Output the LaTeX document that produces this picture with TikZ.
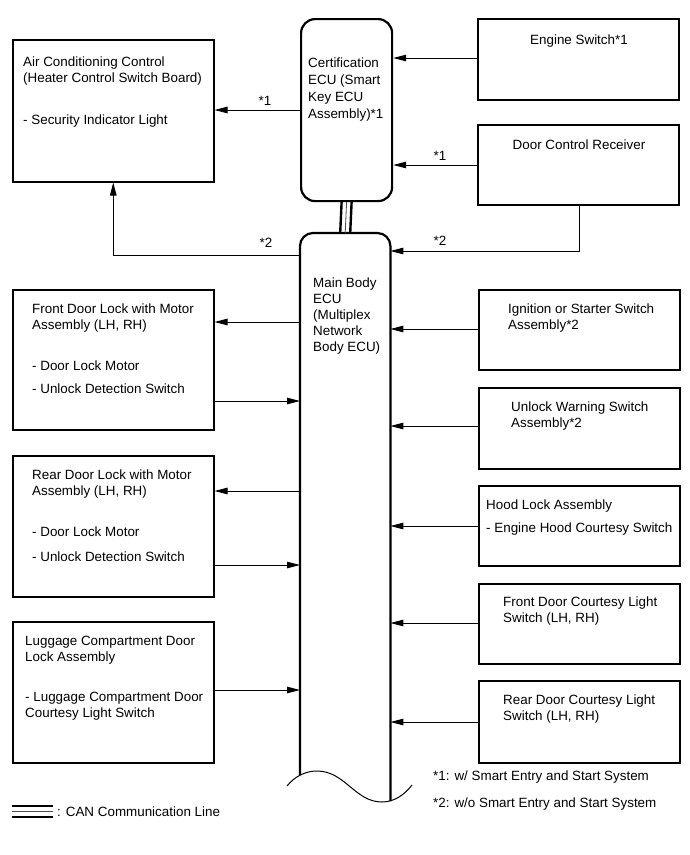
\documentclass[tikz,border=0pt]{standalone}
\usepackage{fontspec}
\setmainfont{Liberation Sans}
\usetikzlibrary{arrows.meta}
\begin{document}
\begin{tikzpicture}[x=1pt,y=-1pt,
 box/.style={draw, line width=1.5pt, inner sep=0pt, anchor=north west, minimum width=201pt},
 ecubox/.style={draw, line width=2.2pt, rounded corners=14pt, inner sep=0pt, anchor=north west},
 txt/.style={inner sep=0pt, anchor=north west, align=left, font=\fontsize{13.4}{16}\selectfont},
 arr/.style={line width=1pt, -{Triangle[length=13pt,width=6.5pt]}},
 lbl/.style={inner sep=0pt, font=\fontsize{13.4}{16}\selectfont},
 can/.style={line width=2.4pt},
 canmid/.style={line width=0.8pt, black!70}]
\useasboundingbox (0,0) rectangle (690,855);

% boxes
\node[box, minimum height=142pt] (ac) at (12,39) {};
\node[ecubox, minimum width=91pt, minimum height=182pt] (cert) at (300,18) {};
\node[box, minimum height=81pt] (eng) at (477,18) {};
\node[box, minimum height=80pt] (dcr) at (477,124) {};
\node[inner sep=0pt, anchor=north west, minimum width=90pt, minimum height=568pt] (main) at (300,233) {};
\node[box, minimum height=140pt] (fl) at (12,289) {};
\node[box, minimum height=141pt] (rl) at (12,455) {};
\node[box, minimum height=141pt] (lg) at (12,621) {};
\node[box, minimum height=80pt] (ig) at (478,289) {};
\node[box, minimum height=81pt] (uw) at (478,387) {};
\node[box, minimum height=80pt] (hl) at (478,485) {};
\node[box, minimum height=80pt] (fc) at (478,583) {};
\node[box, minimum height=82pt] (rc) at (478,680) {};

% main ECU outline
\draw[line width=2.2pt, rounded corners=13pt] (main.west |- 0,775) -- (main.north west) -- (main.north east) -- (main.east |- 0,801);
\draw[line width=1pt] (287,786) .. controls (295,776) and (306,771) .. (317,771) .. controls (345,771) and (355,802) .. (382,802) .. controls (395,802) and (405,794) .. (412,785);

% CAN line
\draw[can] ([xshift=-5pt]cert.south) -- ([xshift=-5pt]main.north);
\draw[can] ([xshift=5pt]cert.south) -- ([xshift=5pt]main.north);
\draw[canmid] (cert.south) -- (main.north);

% texts
\node[txt] (actitle) at (23,57) {Air Conditioning Control\\(Heater Control Switch Board)};
\node[txt] (acitem) at (23,115) {- Security Indicator Light};
\node[txt, font=\fontsize{13.4}{16.7}\selectfont] (certtxt) at (308,58) {Certification\\ECU (Smart\\Key ECU\\Assembly)*1};
\node[txt, anchor=north] (engtxt) at (579,35) {Engine Switch*1};
\node[txt, anchor=north] (dcrtxt) at (579,140) {Door Control Receiver};
\node[txt] (maintxt) at (313,278) {Main Body\\ECU\\(Multiplex\\Network\\Body ECU)};
\node[txt] (fltitle) at (32,304) {Front Door Lock with Motor\\Assembly (LH, RH)};
\node[txt] (flm) at (32,361) {- Door Lock Motor};
\node[txt] (fls) at (32,384) {- Unlock Detection Switch};
\node[txt] (rltitle) at (32,470) {Rear Door Lock with Motor\\Assembly (LH, RH)};
\node[txt] (rlm) at (32,527) {- Door Lock Motor};
\node[txt] (rls) at (32,552) {- Unlock Detection Switch};
\node[txt] (lgtitle) at (25,636) {Luggage Compartment Door\\Lock Assembly};
\node[txt] (lgitem) at (25,692) {- Luggage Compartment Door\\Courtesy Light Switch};
\node[txt] (igtxt) at (508,304) {Ignition or Starter Switch\\Assembly*2};
\node[txt] (uwtxt) at (511,402) {Unlock Warning Switch\\Assembly*2};
\node[txt] (hltitle) at (486,500) {Hood Lock Assembly};
\node[txt] (hlitem) at (486,523) {- Engine Hood Courtesy Switch};
\node[txt] (fctxt) at (503,597) {Front Door Courtesy Light\\Switch (LH, RH)};
\node[txt] (rctxt) at (503,695) {Rear Door Courtesy Light\\Switch (LH, RH)};
\node[txt] (note1) at (433,771) {*1: w/ Smart Entry and Start System};
\node[txt] (note2) at (433,798) {*2: w/o Smart Entry and Start System};

% legend
\draw[can] (12,806) -- (53,806);
\draw[canmid] (12,811.5) -- (53,811.5);
\draw[can] (12,817) -- (53,817);
\node[txt] (legtxt) at (57,807) {: CAN Communication Line};

% connectors
\draw[arr] (eng.west |- 0,58) -- (cert.east |- 0,58);
\draw[arr] (dcr.west |- 0,165) -- (cert.east |- 0,165);
\draw[arr] (cert.west |- 0,110) -- (ac.east |- 0,110);
\draw[arr] (main.west |- 0,255) -| (ac.south);
\draw[arr] ([xshift=1.5pt]dcr.south) |- (main.east |- 0,251);
\draw[arr] (main.west |- 0,322) -- (fl.east |- 0,322);
\draw[arr] (fl.east |- 0,401) -- (main.west |- 0,401);
\draw[arr] (main.west |- 0,491) -- (rl.east |- 0,491);
\draw[arr] (rl.east |- 0,565) -- (main.west |- 0,565);
\draw[arr] (lg.east |- 0,690) -- (main.west |- 0,690);
\draw[arr] (ig.west |- 0,329) -- (main.east |- 0,329);
\draw[arr] (uw.west |- 0,426) -- (main.east |- 0,426);
\draw[arr] (hl.west |- 0,526) -- (main.east |- 0,526);
\draw[arr] (fc.west |- 0,623) -- (main.east |- 0,623);
\draw[arr] (rc.west |- 0,722) -- (main.east |- 0,722);

% connector labels
\node[lbl] (l1) at (265,101) {*1};
\node[lbl] (l2) at (266,243) {*2};
\node[lbl] (l3) at (440,156) {*1};
\node[lbl] (l4) at (440,241) {*2};
\end{tikzpicture}
\end{document}
